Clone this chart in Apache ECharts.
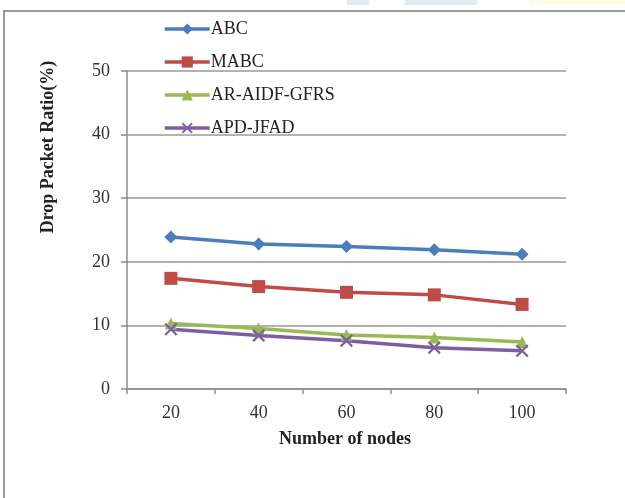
<!DOCTYPE html>
<html>
<head>
<meta charset="utf-8">
<script src="https://cdn.jsdelivr.net/npm/echarts@6/dist/echarts.min.js"></script>
<style>
  html, body { margin: 0; padding: 0; background: #fff; }
  #chart { width: 625px; height: 498px; }
</style>
</head>
<body>
<div id="chart"></div>
<script>
// Node counts on the x axis
const nodeCounts = ['20', '40', '60', '80', '100'];

// Drop packet ratio (%) for each protocol
const abcValues = [23.9, 22.8, 22.4, 21.9, 21.2];
const mabcValues = [17.4, 16.1, 15.2, 14.8, 13.3];
const arAidfGfrsValues = [10.3, 9.5, 8.5, 8.1, 7.4];
const apdJfadValues = [9.4, 8.4, 7.6, 6.5, 6.0];

const seriesNames = ['ABC', 'MABC', 'AR-AIDF-GFRS', 'APD-JFAD'];
const seriesColors = ['#4A7EBB', '#BE4B48', '#98B954', '#7D5FA0'];

const crossSymbol = 'path://M0,1.2L1.2,0L5,3.8L8.8,0L10,1.2L6.2,5L10,8.8L8.8,10L5,6.2L1.2,10L0,8.8L3.8,5Z';
const seriesSymbols = ['diamond', 'rect', 'triangle', crossSymbol];
const symbolSizes = [13, 13, 12, 13];

const serif = '"Liberation Serif", "Times New Roman", serif';

const chart = echarts.init(document.getElementById('chart'), null, { renderer: 'canvas' });

const values = [abcValues, mabcValues, arAidfGfrsValues, apdJfadValues];

chart.setOption({
  backgroundColor: '#ffffff',
  animation: false,
  grid: { left: 127, right: 59, top: 71, bottom: 109, containLabel: false },
  legend: {
    orient: 'vertical',
    left: 158,
    top: 15,
    itemWidth: 45,
    itemHeight: 14,
    itemGap: 15,
    lineStyle: { width: 3.5 },
    textStyle: { fontFamily: serif, fontSize: 18, color: '#222', padding: [0, 0, 0, -4] },
    data: seriesNames
  },
  xAxis: {
    type: 'category',
    data: nodeCounts,
    boundaryGap: true,
    axisLine: { lineStyle: { color: '#8c8c8c', width: 1.5 } },
    axisTick: { show: true, length: 5, lineStyle: { color: '#8c8c8c', width: 1.5 } },
    axisLabel: { fontFamily: serif, fontSize: 18, color: '#333', margin: 15 },
    splitLine: { show: false }
  },
  yAxis: {
    type: 'value',
    min: 0,
    max: 50,
    interval: 10,
    axisLine: { show: true, lineStyle: { color: '#8c8c8c', width: 1.5 } },
    axisTick: { show: true, length: 6, lineStyle: { color: '#8c8c8c', width: 1.5 } },
    axisLabel: { fontFamily: serif, fontSize: 18, color: '#333', margin: 17 },
    splitLine: { show: true, lineStyle: { color: '#9a9a9a', width: 1.5 } }
  },
  series: seriesNames.map((name, i) => ({
    name: name,
    type: 'line',
    data: values[i],
    symbol: seriesSymbols[i],
    symbolSize: symbolSizes[i],
    showAllSymbol: true,
    lineStyle: { color: seriesColors[i], width: 3.5 },
    itemStyle: { color: seriesColors[i] },
    emphasis: { disabled: true }
  })),
  graphic: [
    // Frame lines along the top and left edge
    {
      type: 'polyline',
      shape: { points: [[4, 498], [4, 11], [625, 11]] },
      style: { stroke: '#9a9a9a', lineWidth: 2, fill: null }
    },
    // Faint header shapes above the frame
    { type: 'rect', shape: { x: 347, y: 0, width: 22, height: 5 }, style: { fill: '#e3eaf0' } },
    { type: 'rect', shape: { x: 405, y: 0, width: 72, height: 5 }, style: { fill: '#e3eaf0' } },
    { type: 'rect', shape: { x: 530, y: 0, width: 95, height: 4 }, style: { fill: '#fffbe3' } },
    // Axis titles
    {
      type: 'text',
      x: 48,
      y: 147,
      rotation: Math.PI / 2,
      style: {
        text: 'Drop Packet Ratio(%)',
        fontFamily: serif,
        fontSize: 18,
        fontWeight: 'bold',
        fill: '#222',
        align: 'center',
        verticalAlign: 'middle'
      }
    },
    {
      type: 'text',
      x: 345,
      y: 439,
      style: {
        text: 'Number of nodes',
        fontFamily: serif,
        fontSize: 18,
        fontWeight: 'bold',
        fill: '#222',
        align: 'center',
        verticalAlign: 'middle'
      }
    }
  ]
});
</script>
</body>
</html>
